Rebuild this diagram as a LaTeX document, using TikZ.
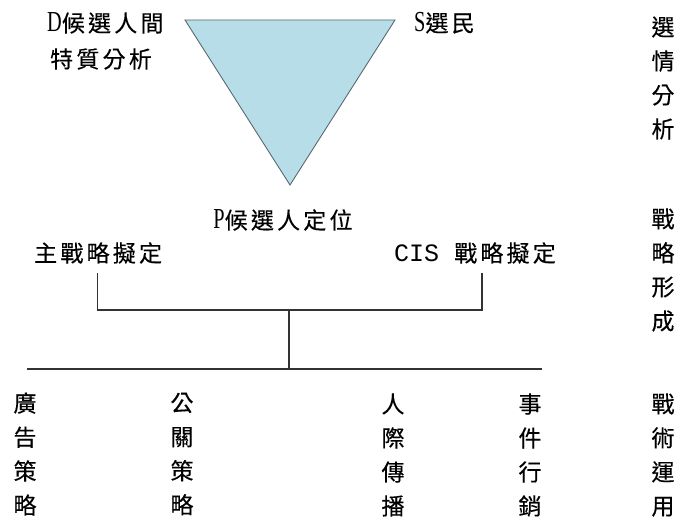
\documentclass[tikz,border=0pt]{standalone}
\usepackage{fontspec}
\newfontfamily\cjk[LetterSpace=14,FakeBold=0.25]{Noto Sans CJK TC}
\newfontfamily\cjkv[FakeBold=0.25]{Noto Sans CJK TC}
\newfontfamily\lat[FakeStretch=0.7]{Liberation Serif}
\newfontfamily\latm{Liberation Mono}
\newcommand{\latlet}[1]{{\lat\fontsize{29}{33}\selectfont #1}}
\definecolor{tricol}{HTML}{B7DEE8}
\definecolor{tridraw}{HTML}{5A6A70}
\tikzset{
  lbl/.style={inner sep=0pt, font=\cjk\fontsize{23}{33}\selectfont, text=black},
  vcol/.style={inner sep=0pt, align=center, font=\cjkv\fontsize{23}{34}\selectfont, text=black},
  tri/.style={fill=tricol, draw=tridraw, line width=0.9pt, line join=miter},
  conn/.style={draw=black!80, line width=1.1pt},
}
\begin{document}
\begin{tikzpicture}[x=1pt,y=-1pt]
\useasboundingbox (0,0) rectangle (680,519);
\fill[white] (0,0) rectangle (680,519);
% triangle
\coordinate (tl) at (185,20);
\coordinate (tr) at (395,20);
\coordinate (tb) at (290,185);
\path[tri] (tl) -- (tr) -- (tb) -- cycle;
% top labels
\node[lbl, anchor=west] (d1) at (47,23) {\latlet{D}候選人間};
\node[lbl, anchor=west] (d2) at (50,59) {特質分析};
\node[lbl, anchor=west] (s) at (414,23) {\latlet{S}選民};
\node[vcol] (r1) at (663,78) {選\\情\\分\\析};
% middle
\node[lbl] (p) at (283,220) {\latlet{P}候選人定位};
\node[lbl, anchor=west] (m) at (34,253) {主戰略擬定};
\node[lbl, anchor=west] (cis) at (394,253) {{\latm\fontsize{25}{33}\selectfont CIS }戰略擬定};
\node[vcol] (r2) at (663,270) {戰\\略\\形\\成};
% connectors
\coordinate (ml) at (97.5,273);
\coordinate (cr) at (482,273);
\coordinate (jl) at (97.5,310);
\coordinate (jr) at (482,310);
\coordinate (jc) at (289,310);
\coordinate (bc) at (289,369);
\coordinate (bl) at (27,369);
\coordinate (br) at (542,369);
\draw[conn] (ml) -- (jl) -- (jr) -- (cr);
\draw[conn] (jc) -- (bc);
\draw[conn] (bl) -- (br);
% bottom columns
\node[vcol] (c1) at (25,454) {廣\\告\\策\\略};
\node[vcol] (c2) at (182,454) {公\\關\\策\\略};
\node[vcol] (c3) at (393,455) {人\\際\\傳\\播};
\node[vcol] (c4) at (530,455) {事\\件\\行\\銷};
\node[vcol] (c5) at (663,455) {戰\\術\\運\\用};
\end{tikzpicture}
\end{document}
